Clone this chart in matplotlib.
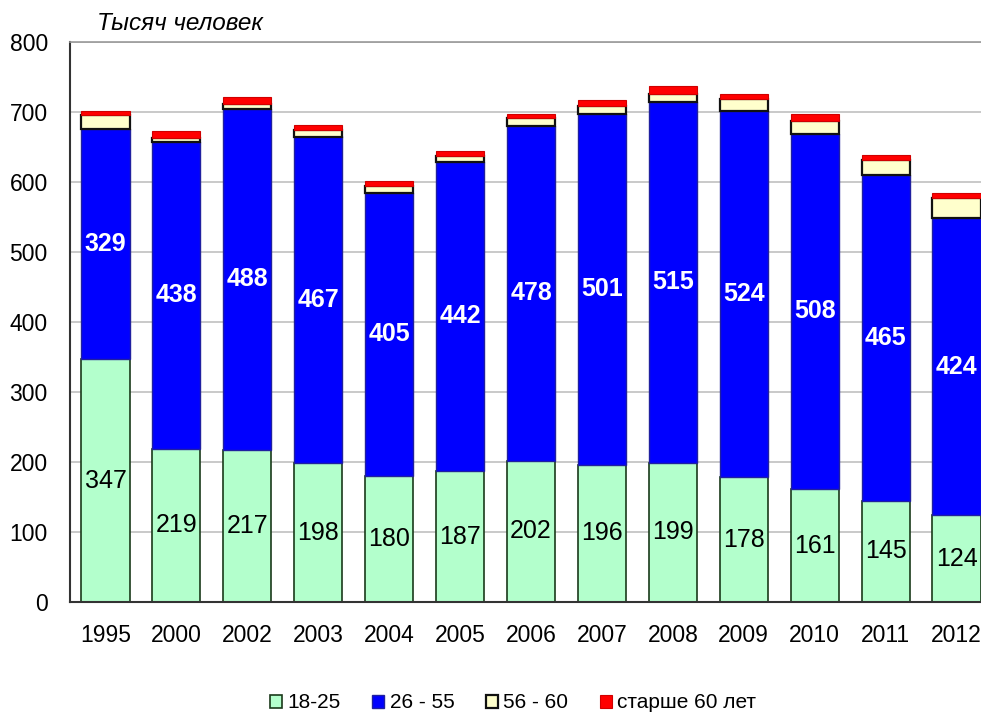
import numpy as np
import matplotlib.pyplot as plt

years = ["1995", "2000", "2002", "2003", "2004", "2005", "2006",
         "2007", "2008", "2009", "2010", "2011", "2012"]
age_18_25 = [347, 219, 217, 198, 180, 187, 202, 196, 199, 178, 161, 145, 124]
age_26_55 = [329, 438, 488, 467, 405, 442, 478, 501, 515, 524, 508, 465, 424]
age_56_60 = [20, 6, 7, 10, 9, 8, 12, 12, 12, 16, 18, 22, 29]
age_60_plus = [6, 10, 10, 7, 8, 8, 5, 8, 11, 7, 10, 7, 8]

plt.rcParams["font.family"] = ["Liberation Sans", "DejaVu Sans"]

fig = plt.figure(figsize=(9.81, 7.13), dpi=100)
ax = fig.add_axes([70 / 981, 1 - 602 / 713, 922 / 981, 560 / 713])

x = np.arange(len(years))
w = 0.68
g = np.array(age_18_25)
b = np.array(age_26_55)
c = np.array(age_56_60)
r = np.array(age_60_plus)

ax.bar(x, g, w, color="#b3ffcc", edgecolor="#1a3a1a", linewidth=1.2, label="18-25", zorder=2)
ax.bar(x, b, w, bottom=g, color="#0000ff", edgecolor="#2020a0", linewidth=1.0, label="26 - 55", zorder=2)
ax.bar(x, c, w, bottom=g + b, color="#ffffcc", edgecolor="#111111", linewidth=1.6, label="56 - 60", zorder=2)
ax.bar(x, r, w, bottom=g + b + c, color="#ff0000", edgecolor="#d00000", linewidth=0.8,
       label="старше 60 лет", zorder=2)

# подписи значений
for i in range(len(years)):
    ax.text(x[i], g[i] / 2, str(g[i]), ha="center", va="center", fontsize=18, color="black", zorder=3)
    ax.text(x[i], g[i] + b[i] / 2, str(b[i]), ha="center", va="center", fontsize=18,
            color="white", fontweight="bold", zorder=3)

ax.set_xlim(-0.5, len(years) - 0.5)
ax.set_ylim(0, 800)
ax.set_yticks(range(0, 801, 100))
ax.set_xticks(x)
ax.set_xticklabels(years)
ax.tick_params(axis="both", length=0, labelsize=16.5)
ax.tick_params(axis="y", pad=16)
ax.tick_params(axis="x", pad=16)
ax.yaxis.grid(True, color="#c0c0c0", linewidth=1.2, zorder=0)
ax.set_axisbelow(True)

for s in ["left", "bottom"]:
    ax.spines[s].set_color("#333333")
    ax.spines[s].set_linewidth(1.5)
ax.spines["top"].set_color("#999999")
ax.spines["top"].set_linewidth(1.2)
ax.spines["right"].set_visible(False)

fig.text(97 / 981, 1 - 23 / 713, "Тысяч человек", fontsize=17.5, style="italic", va="center", ha="left")

leg = fig.legend(loc="center", bbox_to_anchor=(513 / 981, 1 - 703 / 713), ncol=4, frameon=False,
                 fontsize=15, handlelength=0.6, handleheight=0.6, handletextpad=0.25, columnspacing=1.5)

fig.savefig("out.png", dpi=100)
